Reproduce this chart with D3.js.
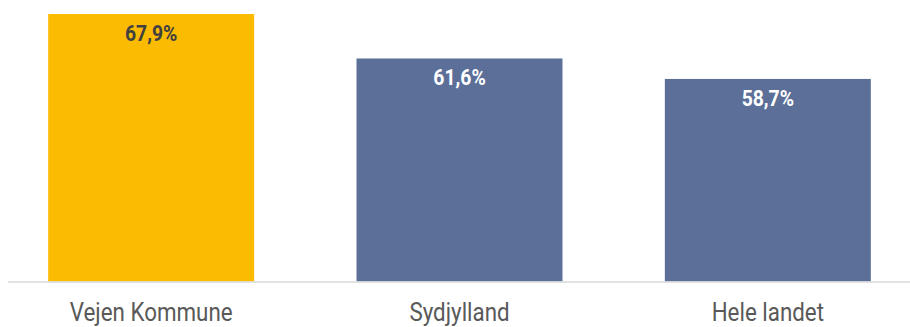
<!DOCTYPE html>
<html>
<head>
<meta charset="utf-8">
<script src="https://cdn.jsdelivr.net/npm/d3@7"></script>
<style>
  html, body { margin: 0; padding: 0; background: #fff; }
  svg { display: block; }
</style>
</head>
<body>
<svg id="chart" width="910" height="327"></svg>
<script>
// data
var categories = ["Vejen Kommune", "Sydjylland", "Hele landet"];
var values = [67.9, 61.6, 58.7];
var barColors = ["#fbbb00", "#5b6f98", "#5b6f98"];
var labelColors = ["#404040", "#ffffff", "#ffffff"];

var width = 910, height = 327;
var baseline = 281.5;

var svg = d3.select("#chart");

// scales
var x = d3.scaleBand()
    .domain(categories)
    .range([-3, 922])
    .paddingInner(0.332)
    .paddingOuter(0.166);

var y = d3.scaleLinear()
    .domain([30, 70])
    .range([baseline, -0.8]);

var fmt = function(v) { return d3.format(".1f")(v).replace(".", ",") + "%"; };

// bars
svg.append("g").selectAll("rect")
    .data(values)
    .enter()
    .append("rect")
    .attr("x", function(d, i) { return x(categories[i]); })
    .attr("y", function(d) { return y(d); })
    .attr("width", x.bandwidth())
    .attr("height", function(d) { return baseline - y(d); })
    .attr("fill", function(d, i) { return barColors[i]; });

// axis line
svg.append("line")
    .attr("x1", 8).attr("x2", 910)
    .attr("y1", baseline + 0.5).attr("y2", baseline + 0.5)
    .attr("stroke", "#d9d9d9")
    .attr("stroke-width", 1.5);

// value labels (condensed look via horizontal scale)
svg.append("g").selectAll("text")
    .data(values)
    .enter()
    .append("text")
    .attr("transform", function(d, i) {
        return "translate(" + (x(categories[i]) + x.bandwidth() / 2) + "," + (y(d) + 27) + ") scale(0.88,1)";
    })
    .attr("text-anchor", "middle")
    .attr("font-family", "Roboto, 'Liberation Sans', sans-serif")
    .attr("font-weight", "bold")
    .attr("font-size", 22)
    .attr("fill", function(d, i) { return labelColors[i]; })
    .text(fmt);

// category labels
svg.append("g").selectAll("text")
    .data(categories)
    .enter()
    .append("text")
    .attr("transform", function(d) {
        return "translate(" + (x(d) + x.bandwidth() / 2) + ",321) scale(0.86,1)";
    })
    .attr("text-anchor", "middle")
    .attr("font-family", "Roboto, 'Liberation Sans', sans-serif")
    .attr("font-size", 26)
    .attr("fill", "#595959")
    .text(function(d) { return d; });
</script>
</body>
</html>
